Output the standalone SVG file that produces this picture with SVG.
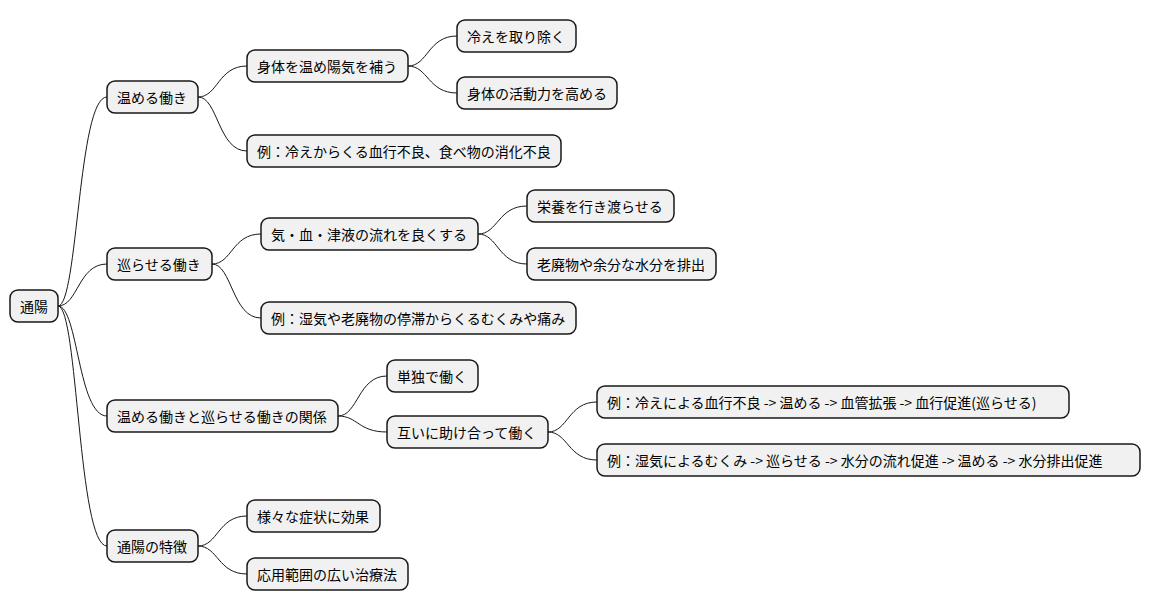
<svg xmlns="http://www.w3.org/2000/svg" width="1151" height="612" viewBox="0 0 1151 612">
<style>
rect{fill:#F1F1F1;stroke:#181818;stroke-width:1.5}
text{font-family:"Noto Sans CJK JP","Noto Sans",sans-serif;font-size:14px;fill:#000;dominant-baseline:central}
.c path{fill:none;stroke:#181818;stroke-width:1}
</style>
<rect width="1151" height="612" style="fill:#fff;stroke:none"/>
<g class="c">
<path d="M58,306 C78,306 78,97 107,97"/>
<path d="M58,306 C78,306 78,264 107,264"/>
<path d="M58,306 C78,306 78,416 107,416"/>
<path d="M58,306 C78,306 78,546 107,546"/>
<path d="M198,97 C218,97 218,66 247,66"/>
<path d="M198,97 C218,97 218,151 247,151"/>
<path d="M212,264 C232,264 232,234 261,234"/>
<path d="M212,264 C232,264 232,318 261,318"/>
<path d="M338,416 C358,416 358,376 387,376"/>
<path d="M338,416 C358,416 358,432 387,432"/>
<path d="M198,546 C218,546 218,516 247,516"/>
<path d="M198,546 C218,546 218,574 247,574"/>
<path d="M408,66 C428,66 428,36 457,36"/>
<path d="M408,66 C428,66 428,93 457,93"/>
<path d="M478,234 C498,234 498,206 527,206"/>
<path d="M478,234 C498,234 498,264 527,264"/>
<path d="M548,432 C568,432 568,402 597,402"/>
<path d="M548,432 C568,432 568,460 597,460"/>
</g>
<g id="root"><rect x="10" y="290" width="48" height="32" rx="8"/><text x="20" y="306">通陽</text></g>
<g id="n1"><rect x="107" y="81" width="91" height="32" rx="8"/><text x="117" y="97">温める働き</text></g>
<g id="n2"><rect x="107" y="248" width="105" height="32" rx="8"/><text x="117" y="264">巡らせる働き</text></g>
<g id="n3"><rect x="107" y="400" width="231" height="32" rx="8"/><text x="117" y="416">温める働きと巡らせる働きの関係</text></g>
<g id="n4"><rect x="107" y="530" width="91" height="32" rx="8"/><text x="117" y="546">通陽の特徴</text></g>
<g id="n11"><rect x="247" y="50" width="161" height="32" rx="8"/><text x="257" y="66">身体を温め陽気を補う</text></g>
<g id="n12"><rect x="247" y="135" width="314" height="32" rx="8"/><text x="257" y="151">例：冷えからくる血行不良、食べ物の消化不良</text></g>
<g id="n21"><rect x="261" y="218" width="217" height="32" rx="8"/><text x="271" y="234">気・血・津液の流れを良くする</text></g>
<g id="n22"><rect x="261" y="302" width="315" height="32" rx="8"/><text x="271" y="318">例：湿気や老廃物の停滞からくるむくみや痛み</text></g>
<g id="n31"><rect x="387" y="360" width="91" height="32" rx="8"/><text x="397" y="376">単独で働く</text></g>
<g id="n32"><rect x="387" y="416" width="161" height="32" rx="8"/><text x="397" y="432">互いに助け合って働く</text></g>
<g id="n41"><rect x="247" y="500" width="133" height="32" rx="8"/><text x="257" y="516">様々な症状に効果</text></g>
<g id="n42"><rect x="247" y="558" width="161" height="32" rx="8"/><text x="257" y="574">応用範囲の広い治療法</text></g>
<g id="n111"><rect x="457" y="20" width="119" height="32" rx="8"/><text x="467" y="36">冷えを取り除く</text></g>
<g id="n112"><rect x="457" y="77" width="160" height="32" rx="8"/><text x="467" y="93">身体の活動力を高める</text></g>
<g id="n211"><rect x="527" y="190" width="147" height="32" rx="8"/><text x="537" y="206">栄養を行き渡らせる</text></g>
<g id="n212"><rect x="527" y="248" width="189" height="32" rx="8"/><text x="537" y="264">老廃物や余分な水分を排出</text></g>
<g id="n321"><rect x="597" y="386" width="472" height="32" rx="8"/><text x="607" y="402">例：冷えによる血行不良 -&gt; 温める -&gt; 血管拡張 -&gt; 血行促進(巡らせる)</text></g>
<g id="n322"><rect x="597" y="444" width="543" height="32" rx="8"/><text x="607" y="460">例：湿気によるむくみ -&gt; 巡らせる -&gt; 水分の流れ促進 -&gt; 温める -&gt; 水分排出促進</text></g>
</svg>
